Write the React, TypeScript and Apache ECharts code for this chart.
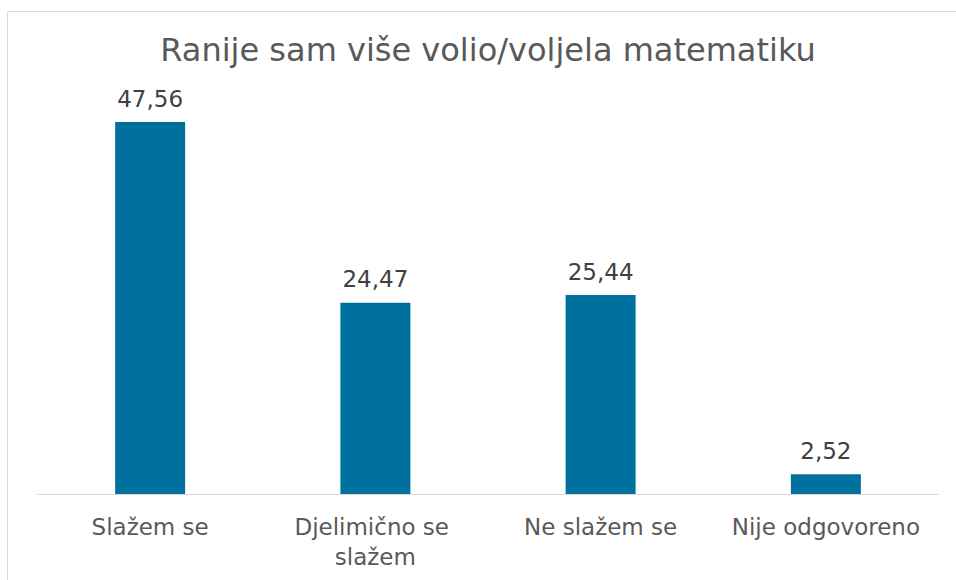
import React, { useEffect, useRef } from "react";
import * as echarts from "echarts";

const TITLE = "Ranije sam više volio/voljela matematiku";
const categories = ["Slažem se", "Djelimično se slažem", "Ne slažem se", "Nije odgovoreno"];
const values = [47.56, 24.47, 25.44, 2.52];

const FONT = "'DejaVu Sans', Verdana, sans-serif";

export default function App() {
  const ref = useRef<HTMLDivElement>(null);
  useEffect(() => {
    if (!ref.current) return;
    const chart = echarts.init(ref.current, undefined, { renderer: "svg" });
    chart.setOption({
      animation: false,
      backgroundColor: "#ffffff",
      graphic: [
        {
          type: "rect",
          shape: { x: 7.5, y: 11.5, width: 1000, height: 700 },
          style: { fill: "none", stroke: "#d9d9d9", lineWidth: 1 },
          silent: true,
        },
        {
          type: "text",
          x: 488,
          y: 34,
          style: {
            text: TITLE,
            font: `32px ${FONT}`,
            fill: "#595959",
            align: "center",
            verticalAlign: "top",
          },
        },
      ],
      grid: { left: 37.5, right: 17.5, top: 103, bottom: 86 },
      xAxis: {
        type: "category",
        data: categories,
        axisLine: { lineStyle: { color: "#d9d9d9", width: 1 } },
        axisTick: { show: false },
        axisLabel: {
          color: "#595959",
          fontFamily: FONT,
          fontSize: 23,
          lineHeight: 30,
          margin: 18,
          interval: 0,
          width: 215,
          overflow: "break",
        },
      },
      yAxis: {
        type: "value",
        min: 0,
        max: 50,
        show: false,
        splitLine: { show: false },
      },
      series: [
        {
          type: "bar",
          data: values,
          barWidth: 70,
          itemStyle: { color: "#00709f" },
          label: {
            show: true,
            position: "top",
            distance: 12,
            color: "#404040",
            fontFamily: FONT,
            fontSize: 23,
            formatter: (p: any) => p.value.toFixed(2).replace(".", ","),
          },
        },
      ],
    });
    return () => chart.dispose();
  }, []);
  return (
    <div
      ref={ref}
      style={{ position: "absolute", left: 0, top: 0, width: 956, height: 580 }}
    />
  );
}
